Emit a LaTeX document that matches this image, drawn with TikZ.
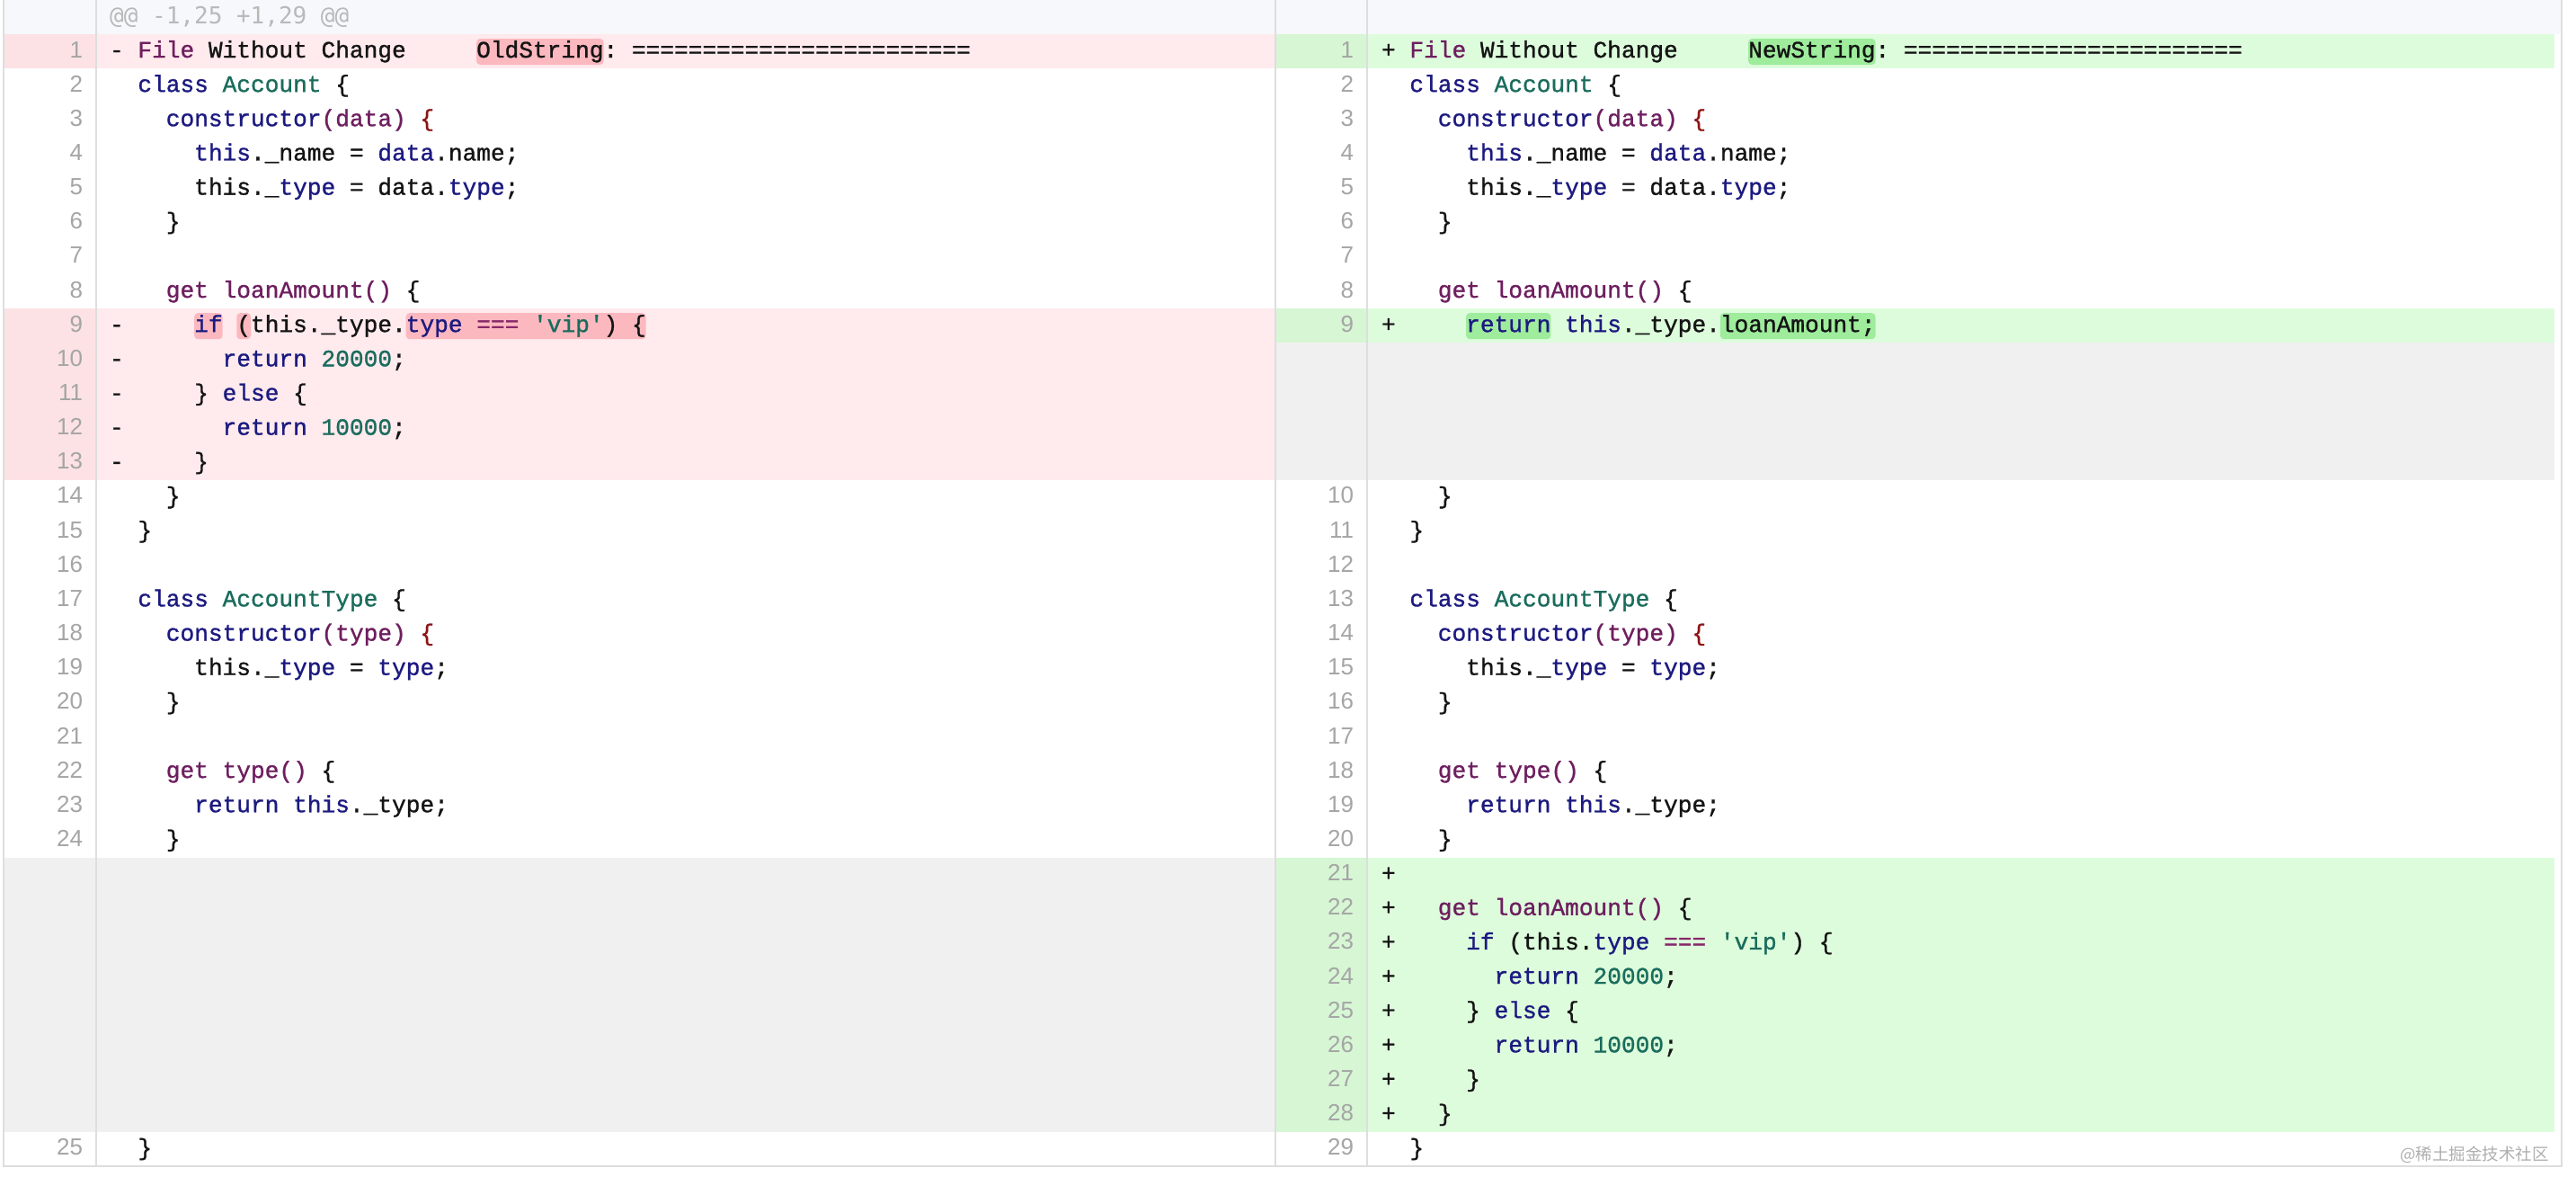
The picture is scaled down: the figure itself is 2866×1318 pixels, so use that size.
\documentclass[tikz,border=0pt]{standalone}
\usepackage{fontspec}
\newfontfamily\codefont{Liberation Mono}[WordSpace={1,0,0},PunctuationSpace=WordSpace,FakeBold=1.1]
\newfontfamily\hdrfont{DejaVu Sans Mono}[WordSpace={1,0,0}]
\newfontfamily\lnfont{Liberation Sans}
\newfontfamily\cjk{Noto Sans CJK SC}
\frenchspacing
\definecolor{kwc}{RGB}{28,26,128}
\definecolor{puc}{RGB}{110,30,95}
\definecolor{tyc}{RGB}{26,108,92}
\definecolor{drc}{RGB}{140,20,20}
\definecolor{opc}{RGB}{135,40,105}
\definecolor{txc}{RGB}{20,20,20}
\definecolor{lnc}{RGB}{165,165,165}
\definecolor{hdrc}{RGB}{185,185,185}
\definecolor{hdrbg}{RGB}{246,248,251}
\definecolor{delbg}{RGB}{255,234,237}
\definecolor{delgut}{RGB}{252,226,229}
\definecolor{delhl}{RGB}{252,184,191}
\definecolor{addbg}{RGB}{221,252,220}
\definecolor{addgut}{RGB}{214,246,212}
\definecolor{addhl}{RGB}{158,236,156}
\definecolor{emptybg}{RGB}{240,240,240}
\definecolor{bordc}{RGB}{222,222,222}
\definecolor{wmc}{RGB}{175,175,175}
\newcommand\kwt[1]{\textcolor{kwc}{#1}}
\newcommand\pur[1]{\textcolor{puc}{#1}}
\newcommand\tyt[1]{\textcolor{tyc}{#1}}
\newcommand\drt[1]{\textcolor{drc}{#1}}
\newcommand\opr[1]{\textcolor{opc}{#1}}
% code line: name, x0, column, row, text
\newcommand\CL[5]{\node[codetext] (#1) at ({#2+#3*15.7},{64+(#4-1)*38.15}) {#5};}
% line number: name, right x, row, text
\newcommand\LN[4]{\node[lnum] (#1) at (#2,{64+(#3-1)*38.15}) {#4};}
% highlight: x0, col from, col to, row, colour
\newcommand\HL[5]{\fill[#5,rounded corners=4pt] ({#1+#2*15.7},{43+(#4-1)*38.15}) rectangle ({#1+#3*15.7},{72+(#4-1)*38.15});}
% band: x left, x gutter, x right, row from, row to, code colour, gutter colour
\newcommand\band[7]{\fill[#7] (#1,{38+(#4-1)*38.15}) rectangle (#2,{38+#5*38.15});
  \fill[#6] (#2,{38+(#4-1)*38.15}) rectangle (#3,{38+#5*38.15});}
\newcommand\sharedlines[2]{%
  \CL{#1r2}{#2}{2}{2}{\kwt{class} \tyt{Account} \{}
  \CL{#1r3}{#2}{4}{3}{\kwt{constructor}\pur{(data)} \drt{\{}}
  \CL{#1r4}{#2}{6}{4}{\kwt{this}.\_name = \kwt{data}.name;}
  \CL{#1r5}{#2}{6}{5}{this.\_\kwt{type} = data.\kwt{type};}
  \CL{#1r6}{#2}{4}{6}{\}}
  \CL{#1r8}{#2}{4}{8}{\pur{get loanAmount()} \{}
  \CL{#1r14}{#2}{4}{14}{\}}
  \CL{#1r15}{#2}{2}{15}{\}}
  \CL{#1r17}{#2}{2}{17}{\kwt{class} \tyt{AccountType} \{}
  \CL{#1r18}{#2}{4}{18}{\kwt{constructor}\pur{(type)} \drt{\{}}
  \CL{#1r19}{#2}{6}{19}{this.\_\kwt{type} = \kwt{type};}
  \CL{#1r20}{#2}{4}{20}{\}}
  \CL{#1r22}{#2}{4}{22}{\pur{get type()} \{}
  \CL{#1r23}{#2}{6}{23}{\kwt{return this}.\_type;}
  \CL{#1r24}{#2}{4}{24}{\}}
  \CL{#1r33}{#2}{2}{33}{\}}
}
\tikzset{
  codetext/.style={anchor=base west, inner sep=0pt, outer sep=0pt, text=txc,
    font=\codefont\fontsize{26.17}{30}\selectfont},
  lnum/.style={anchor=base east, inner sep=0pt, outer sep=0pt, text=lnc,
    font=\lnfont\fontsize{26}{30}\selectfont},
  hdrtext/.style={anchor=base west, inner sep=0pt, text=hdrc,
    font=\hdrfont\fontsize{26}{30}\selectfont},
  wmtext/.style={anchor=base east, inner sep=0pt, text=wmc,
    font=\cjk\fontsize{18.5}{22}\selectfont},
  rule/.style={draw=bordc, line width=1.5pt}
}
\begin{document}
\begin{tikzpicture}[x=1pt,y=-1pt]
\useasboundingbox (0,0) rectangle (2866,1318);
\fill[white] (0,0) rectangle (2866,1318);
% header
\fill[hdrbg] (4,0) rectangle (2850,38);
% row bands
\band{4}{107}{1419}{1}{1}{delbg}{delgut}
\band{4}{107}{1419}{9}{13}{delbg}{delgut}
\band{4}{107}{1419}{25}{32}{emptybg}{emptybg}
\band{1419}{1521}{2842}{1}{1}{addbg}{addgut}
\band{1419}{1521}{2842}{9}{9}{addbg}{addgut}
\band{1419}{1521}{2842}{10}{13}{emptybg}{emptybg}
\band{1419}{1521}{2842}{25}{32}{addbg}{addgut}
% word highlights
\HL{122}{26}{35}{1}{delhl}
\HL{122}{6}{8}{9}{delhl}
\HL{122}{9}{10}{9}{delhl}
\HL{122}{21}{38}{9}{delhl}
\HL{1537}{26}{35}{1}{addhl}
\HL{1537}{6}{12}{9}{addhl}
\HL{1537}{24}{35}{9}{addhl}
% rules
\draw[rule] (107,0) -- (107,1297);
\draw[rule] (1419,0) -- (1419,1297);
\draw[rule] (1521,0) -- (1521,1297);
\draw[rule] (4,0) -- (4,1297) -- (2850,1297) -- (2850,0);
% header text
\node[hdrtext] (hdr) at (122,26) {@@ -1,25 +1,29 @@};
% line numbers, left
\foreach \i in {1,...,24} {\LN{lnL\i}{92}{\i}{\i}}
\LN{lnL25}{92}{33}{25}
% line numbers, right
\foreach \i in {1,...,9} {\LN{lnR\i}{1506}{\i}{\i}}
\foreach \r in {14,...,33} {\pgfmathtruncatemacro\n{\r-4}\LN{lnR\n}{1506}{\r}{\n}}
% left code
\CL{Lm1}{122}{0}{1}{-}
\CL{L1}{122}{2}{1}{\pur{File} Without Change}
\CL{L1b}{122}{26}{1}{OldString: ========================}
\sharedlines{L}{122}
\foreach \r in {9,...,13} {\CL{Lm\r}{122}{0}{\r}{-}}
\CL{L9}{122}{6}{9}{\kwt{if} (this.\_type.\kwt{type} \opr{===} \tyt{\textquotesingle vip\textquotesingle}) \{}
\CL{L10}{122}{8}{10}{\kwt{return} \tyt{20000};}
\CL{L11}{122}{6}{11}{\} \kwt{else} \{}
\CL{L12}{122}{8}{12}{\kwt{return} \tyt{10000};}
\CL{L13}{122}{6}{13}{\}}
% right code
\CL{Rm1}{1537}{0}{1}{+}
\CL{R1}{1537}{2}{1}{\pur{File} Without Change}
\CL{R1b}{1537}{26}{1}{NewString: ========================}
\sharedlines{R}{1537}
\CL{Rm9}{1537}{0}{9}{+}
\CL{R9}{1537}{6}{9}{\kwt{return this}.\_type.loanAmount;}
\foreach \r in {25,...,32} {\CL{Rm\r}{1537}{0}{\r}{+}}
\CL{R26}{1537}{4}{26}{\pur{get loanAmount()} \{}
\CL{R27}{1537}{6}{27}{\kwt{if} (this.\kwt{type} \opr{===} \tyt{\textquotesingle vip\textquotesingle}) \{}
\CL{R28}{1537}{8}{28}{\kwt{return} \tyt{20000};}
\CL{R29}{1537}{6}{29}{\} \kwt{else} \{}
\CL{R30}{1537}{8}{30}{\kwt{return} \tyt{10000};}
\CL{R31}{1537}{6}{31}{\}}
\CL{R32}{1537}{4}{32}{\}}
% watermark
\node[wmtext] (wm) at (2836,1290) {@稀土掘金技术社区};
\end{tikzpicture}
\end{document}
